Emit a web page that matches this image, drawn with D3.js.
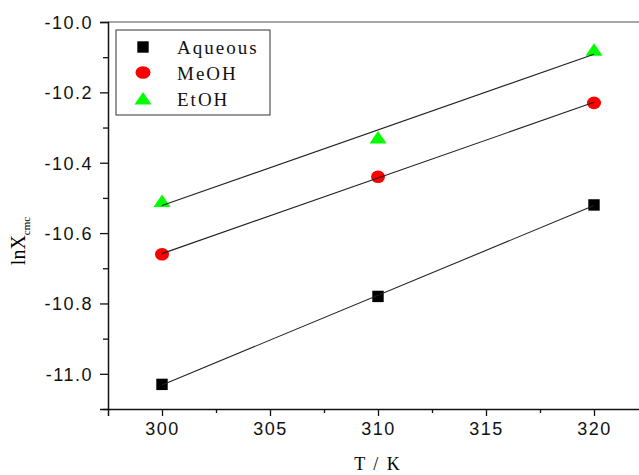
<!DOCTYPE html>
<meta charset="utf-8">
<script src="https://d3js.org/d3.v7.min.js"></script>
<body>
    <div id="viz"></div>
</body>
<style>
    body { margin : 0; background : white; }
    .tick text { font-family : "Liberation Sans", Arial, sans-serif; }
</style>
<script>
    // data
    let temps = [300, 310, 320];
    let aqueous = [-11.03, -10.78, -10.52];
    let meoh = [-10.66, -10.44, -10.23];
    let etoh = [-10.51, -10.33, -10.08];
    let seriesNames = ["Aqueous", "MeOH", "EtOH"];
    let xTicks = [300, 305, 310, 315, 320];
    let yTicks = [-10.0, -10.2, -10.4, -10.6, -10.8, -11.0];

    let width = 639, height = 475;
    let plot = {left : 108, top : 22, bottom : 409, right : 648};

    let svg = d3.select("#viz")
        .append("svg")
            .attr("width", width)
            .attr("height", height);

    let x = d3.scaleLinear().domain([297.5, 322.5]).range([plot.left, plot.right]);
    let y = d3.scaleLinear().domain([-11.1, -10.0]).range([plot.bottom, plot.top]);

    // top frame line (gray)
    svg.append("line")
        .attr("x1", plot.left).attr("x2", width)
        .attr("y1", plot.top).attr("y2", plot.top)
        .style("stroke", "#888")
        .style("stroke-width", 1.5);

    // axes
    let xAxis = svg.append("g")
        .attr("transform", `translate(0,${plot.bottom})`)
        .call(d3.axisBottom(x).tickValues(xTicks).tickFormat(d3.format("d")).tickSize(7).tickPadding(6));
    let xMinor = svg.append("g")
        .attr("transform", `translate(0,${plot.bottom})`)
        .call(d3.axisBottom(x).tickValues(d3.range(302.5, 322.6, 5)).tickFormat("").tickSize(4));
    xMinor.select(".domain").remove();

    let yAxis = svg.append("g")
        .attr("transform", `translate(${plot.left},0)`)
        .call(d3.axisLeft(y).tickValues(yTicks).tickFormat(d => d.toFixed(1)).tickSize(8).tickPadding(7));
    let yMinor = svg.append("g")
        .attr("transform", `translate(${plot.left},0)`)
        .call(d3.axisLeft(y).tickValues([-10.1, -10.3, -10.5, -10.7, -10.9, -11.1]).tickFormat("").tickSize(5));
    yMinor.select(".domain").remove();

    svg.selectAll(".domain").attr("stroke-width", 1.5).attr("stroke", "#111");
    svg.selectAll(".tick line").attr("stroke-width", 1.3).attr("stroke", "#111");
    xAxis.selectAll(".tick text")
        .attr("font-size", 18)
        .style("letter-spacing", "1.5px")
        .attr("fill", "#111");
    yAxis.selectAll(".tick text")
        .attr("font-size", 18)
        .style("letter-spacing", "1.5px")
        .attr("dy", "0.36em")
        .attr("fill", "#111");

    // axis titles
    svg.append("text")
        .attr("x", 378)
        .attr("y", 470)
        .attr("text-anchor", "middle")
        .style("font-family", "Liberation Serif, Times New Roman, serif")
        .style("font-size", "18px")
        .style("letter-spacing", "2px")
        .text("T / K");

    let yTitle = svg.append("text")
        .attr("transform", "translate(25,241) rotate(-90)")
        .attr("text-anchor", "middle")
        .style("font-family", "Liberation Serif, Times New Roman, serif")
        .style("font-size", "20px");
    yTitle.append("tspan").text("lnX");
    yTitle.append("tspan")
        .attr("dy", 5)
        .style("font-size", "11px")
        .text("cmc");

    // fit lines (least squares)
    function fit(ys) {
        let mx = d3.mean(temps), my = d3.mean(ys);
        let b = d3.sum(temps, (t, i) => (t - mx) * (ys[i] - my)) / d3.sum(temps, t => (t - mx) * (t - mx));
        let a = my - b * mx;
        return [[temps[0], a + b * temps[0]], [temps[2], a + b * temps[2]]];
    }

    let series = [aqueous, meoh, etoh];
    let line = d3.line().x(d => x(d[0])).y(d => y(d[1]));

    // symbols
    let sq = d3.symbol().type(d3.symbolSquare).size(130);
    function tri(cx, cy) {
        return `M${cx},${cy - 7} L${cx + 8.5},${cy + 5.5} L${cx - 8.5},${cy + 5.5} Z`;
    }

    svg.append("g").selectAll("path")
        .data(aqueous)
        .enter()
        .append("path")
            .attr("d", sq)
            .attr("transform", (d, i) => `translate(${x(temps[i])},${y(d)})`)
            .style("fill", "black");

    svg.append("g").selectAll("ellipse")
        .data(meoh)
        .enter()
        .append("ellipse")
            .attr("cx", (d, i) => x(temps[i]))
            .attr("cy", d => y(d))
            .attr("rx", 7)
            .attr("ry", 6.3)
            .style("fill", "#ff0000");

    svg.append("g").selectAll("path")
        .data(etoh)
        .enter()
        .append("path")
            .attr("d", (d, i) => tri(x(temps[i]), y(d)))
            .style("fill", "#00ff00");

    // fit lines drawn over the symbols like the original
    series.forEach(function(s) {
        svg.append("path")
            .attr("d", line(fit(s)))
            .style("fill", "none")
            .style("stroke", "#222")
            .style("stroke-width", 1.1);
    });

    // legend
    let legend = svg.append("g");
    legend.append("rect")
        .attr("x", 116).attr("y", 30)
        .attr("width", 154).attr("height", 85)
        .style("fill", "white")
        .style("stroke", "#333")
        .style("stroke-width", 1);

    let rowY = [47, 72.5, 99];
    legend.append("path")
        .attr("d", sq)
        .attr("transform", `translate(143,${rowY[0]})`)
        .style("fill", "black");
    legend.append("ellipse")
        .attr("cx", 143).attr("cy", rowY[1])
        .attr("rx", 7.5).attr("ry", 6.3)
        .style("fill", "#ff0000");
    legend.append("path")
        .attr("d", tri(143, rowY[2]))
        .style("fill", "#00ff00");

    legend.selectAll("text.lab")
        .data(seriesNames)
        .enter()
        .append("text")
            .attr("class", "lab")
            .attr("x", 177)
            .attr("y", (d, i) => rowY[i] + 7)
            .text(d => d)
            .style("font-family", "Liberation Serif, Times New Roman, serif")
            .style("font-size", "19px")
            .style("letter-spacing", "2px")
            .style("fill", "#111");
</script>
